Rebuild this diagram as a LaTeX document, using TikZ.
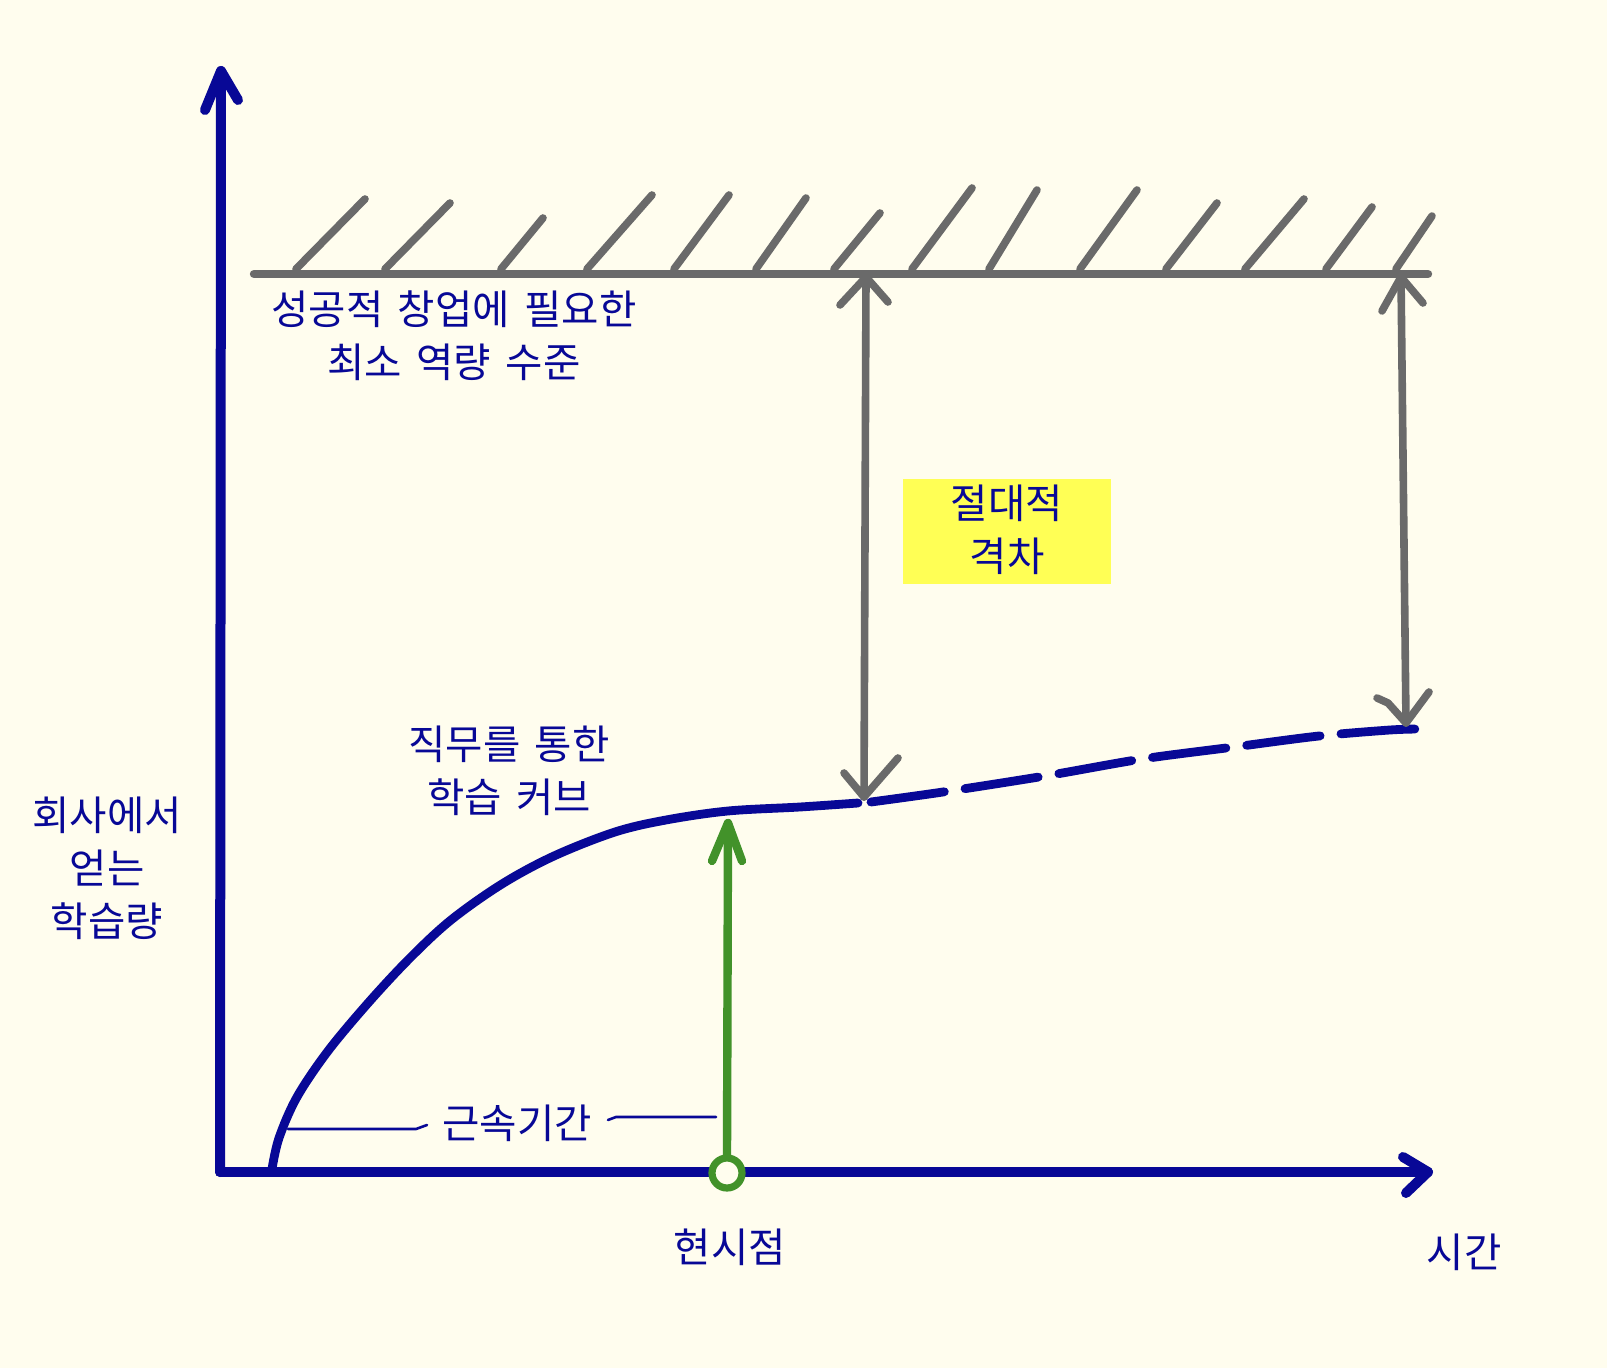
\documentclass[tikz,border=0pt]{standalone}
\usepackage{fontspec}
\setmainfont[WordSpace=1.6]{Noto Sans CJK KR}
\definecolor{bg}{RGB}{255,253,238}
\definecolor{navy}{RGB}{8,8,150}
\definecolor{gry}{RGB}{106,106,106}
\definecolor{grn}{RGB}{66,146,42}
\definecolor{yel}{RGB}{255,255,85}
\begin{document}
\begin{tikzpicture}[x=0.5pt,y=-0.5pt,line cap=round,line join=round,
  lbl/.style={text=navy,font=\fontsize{20.3}{26.5}\selectfont,align=center,inner sep=0pt},
  axisline/.style={draw=navy,line width=5pt},
  grayline/.style={draw=gry,line width=4.2pt},
  hatch/.style={draw=gry,line width=3.8pt},
  garrow/.style={draw=gry,line width=3.8pt},
  greenline/.style={draw=grn,line width=4.2pt},
  curve/.style={draw=navy,line width=4.4pt},
  leader/.style={draw=navy,line width=1.3pt}]
\fill[bg] (0,0) rectangle (1607,1368);
\useasboundingbox (0,0) rectangle (1607,1368);

% axes
\coordinate (O) at (220,1172);
\coordinate (ytip) at (221,71);
\coordinate (xtip) at (1428,1172);
\draw[axisline] (O) -- (ytip);
\draw[axisline] (ytip) -- ++(-16,39) (ytip) -- ++(17,29);
\draw[axisline] (O) -- (xtip);
\draw[axisline] (xtip) -- ++(-25,-15) (xtip) -- ++(-22,21);

% ceiling line with hatches
\coordinate (gL) at (254,274);
\coordinate (gR) at (1428,274);
\draw[grayline] (gL) -- (gR);
\foreach \xa/\xb/\yb in {296/365/199,385/450/203,501/543/218,587/652/195,674/729/195,756/806/198,834/880/213,912/972/188,989/1037/190,1080/1137/190,1166/1217/203,1245/1304/199,1326/1372/207,1396/1432/216}
  \draw[hatch] (\xa,269) -- (\xb,\yb);

% learning curve
\coordinate (cS) at (272,1169);
\coordinate (cM) at (858,803);
\coordinate (dS) at (871,802);
\coordinate (dE) at (1420,729);
\draw[curve] plot[smooth,tension=0.55] coordinates {(cS) (279,1138) (297,1097) (328,1051) (369,1002) (410,958) (451,920) (502,884) (554,856) (615,832) (666,820) (728,811) (800,807) (cM)};
\draw[curve,dash pattern=on 37pt off 10.5pt] plot[smooth,tension=0.5] coordinates {(dS) (943,792) (1045,776) (1142,759) (1234,747) (1319,736) (1390,730) (dE)};

% gray gap arrows
\coordinate (a1t) at (866,277);
\coordinate (a1b) at (864,797);
\draw[garrow] (a1t) -- (a1b);
\draw[garrow] (a1t) -- ++(-26,28) (a1t) -- ++(22,25);
\draw[garrow] (a1b) -- ++(-20,-24) (a1b) -- ++(34,-39);
\coordinate (a2t) at (1401,277);
\coordinate (a2b) at (1406,723);
\draw[garrow] (a2t) -- (a2b);
\draw[garrow] (a2t) -- ++(-19,34) (a2t) -- ++(22,26);
\draw[garrow] (a2b) -- ++(-18,-20) -- ++(-11,-5) (a2b) -- ++(23,-31);

% green now arrow
\node[circle,draw=grn,fill=bg,line width=3.6pt,minimum size=15pt,inner sep=0pt] (now) at (727,1173) {};
\coordinate (gtip) at (728,823);
\draw[greenline] (now.north) -- (gtip);
\draw[greenline] (gtip) -- ++(-16,38) (gtip) -- ++(14,38);

% yellow box
\node[fill=yel,minimum width=104pt,minimum height=52.5pt,inner sep=0pt] (gapbox) at (1007,532) {};
\node[lbl] (gaptext) at (1007,530) {절대적\\격차};

% labels
\node[lbl] (ceil) at (454,336) {성공적 창업에 필요한\\최소 역량 수준};
\node[lbl] (curvelbl) at (509,771) {직무를 통한\\학습 커브};
\node[lbl] (ylbl) at (107,868) {회사에서\\얻는\\학습량};
\node[lbl] (tenure) at (517,1123) {근속기간};
\node[lbl] (nowlbl) at (730,1247) {현시점};
\node[lbl] (xlbl) at (1464,1252) {시간};

% tenure leaders
\coordinate (kL) at (288,1129);
\coordinate (kR) at (716,1117);
\draw[leader] (kL) -- (416,1129) -- (427,1125);
\draw[leader] (608,1120) -- (616,1117) -- (kR);
\end{tikzpicture}
\end{document}
